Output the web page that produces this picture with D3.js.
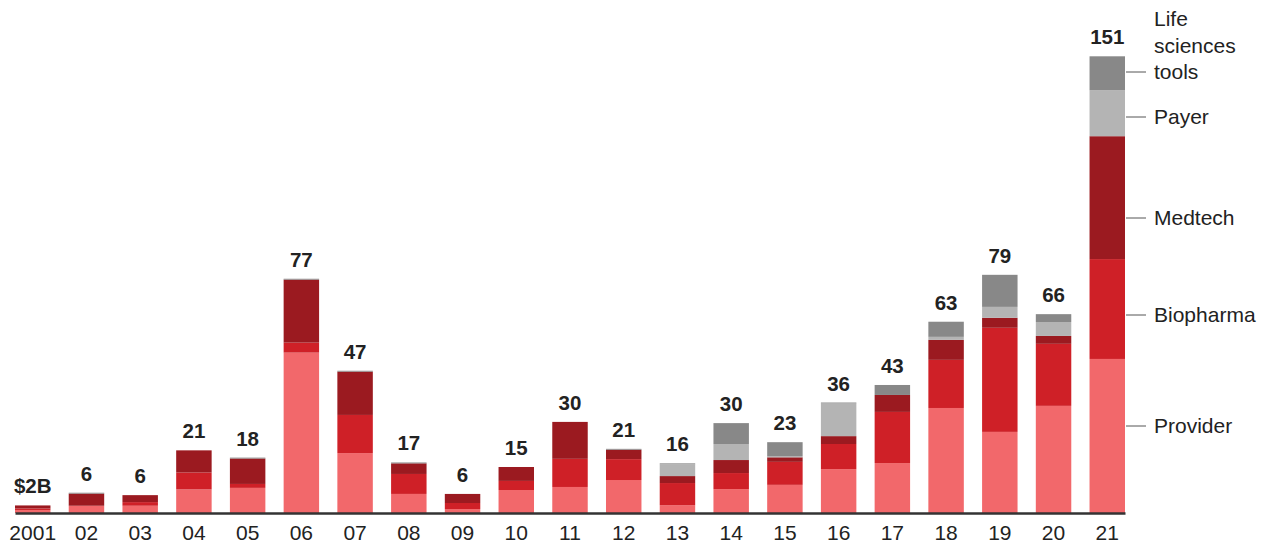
<!DOCTYPE html>
<html>
<head>
<meta charset="utf-8">
<script src="https://cdn.jsdelivr.net/npm/d3@7"></script>
<style>
  html, body { margin: 0; padding: 0; background: #fff; }
  svg { display: block; font-family: "Liberation Sans", Arial, Helvetica, sans-serif; }
</style>
</head>
<body>
<svg id="chart" width="1265" height="545"></svg>
<script>
// ---- Data ----
const years = ["2001","02","03","04","05","06","07","08","09","10","11","12","13","14","15","16","17","18","19","20","21"];
const totalLabels = ["$2B","6","6","21","18","77","47","17","6","15","30","21","16","30","23","36","43","63","79","66","151"];
const provider  = [1.0, 2.4, 2.4, 7.8, 8.3, 53.0, 19.8, 6.3, 1.3, 7.6, 8.6, 10.9, 2.6, 7.9, 9.3, 14.5, 16.5, 34.7, 26.8, 35.4, 50.9];
const biopharma = [0.5, 0.0, 1.2, 5.6, 1.3, 3.3, 12.6, 6.6, 2.0, 3.0, 9.3, 6.9, 7.3, 5.3, 7.6, 8.3, 16.9, 15.9, 34.4, 20.5, 33.0];
const medtech   = [1.0, 4.0, 2.3, 7.3, 8.4, 20.8, 14.3, 3.5, 3.0, 4.6, 12.2, 3.1, 2.3, 4.3, 1.5, 2.6, 5.6, 6.6, 3.3, 2.6, 40.6];
const payer     = [0, 0, 0, 0, 0, 0, 0, 0, 0, 0, 0, 0, 3.9, 5.3, 0.3, 10.8, 0, 1.0, 3.6, 4.6, 15.2];
const lifeSci   = [0, 0.3, 0, 0, 0.3, 0.3, 0.3, 0.3, 0, 0, 0, 0.3, 0.3, 6.9, 4.7, 0.3, 3.3, 5.0, 10.6, 2.6, 11.2];
const seriesNames = ["Provider", "Biopharma", "Medtech", "Payer", "Life sciences tools"];
const seriesKeys  = ["provider", "biopharma", "medtech", "payer", "lifeSci"];

// ---- Layout / style ----
const colors = { provider: "#f2686b", biopharma: "#cf2027", medtech: "#9b1a20", payer: "#b4b4b4", lifeSci: "#888888" };
const legendLineY = { provider: 426, biopharma: 315, medtech: 218, payer: 117, lifeSci: 72 };

const rows = years.map((y, i) => ({
  year: y, label: totalLabels[i],
  provider: provider[i], biopharma: biopharma[i], medtech: medtech[i], payer: payer[i], lifeSci: lifeSci[i]
}));

const svg = d3.select("#chart");
const x = d3.scaleBand().domain(years).range([15, 1125]).paddingInner(0.34).paddingOuter(0);
const y = d3.scaleLinear().domain([0, 151]).range([513, 56]);

const stack = d3.stack().keys(seriesKeys);
const stacked = stack(rows);

svg.append("g").selectAll("g")
  .data(stacked).join("g")
  .attr("fill", d => colors[d.key])
  .selectAll("rect")
  .data(d => d).join("rect")
  .attr("x", d => x(d.data.year))
  .attr("width", x.bandwidth())
  .attr("y", d => y(d[1]))
  .attr("height", d => Math.max(0, y(d[0]) - y(d[1])));

// totals
svg.append("g").selectAll("text")
  .data(rows).join("text")
  .attr("x", d => x(d.year) + x.bandwidth() / 2)
  .attr("y", d => y(seriesKeys.reduce((s, k) => s + d[k], 0)) - 12)
  .attr("text-anchor", "middle")
  .attr("font-size", 20.5)
  .attr("font-weight", "bold")
  .attr("fill", "#222")
  .text(d => d.label);

// x axis
const xAxis = d3.axisBottom(x).tickSize(0).tickPadding(0);
const gx = svg.append("g").attr("transform", "translate(0,513)").call(xAxis);
gx.select(".domain").attr("stroke", "#333").attr("stroke-width", 2.5);
gx.selectAll(".tick text")
  .attr("font-size", 21)
  .attr("fill", "#222")
  .attr("font-family", "\"Liberation Sans\", Arial, Helvetica, sans-serif")
  .attr("dy", null)
  .attr("y", 27);

// legend
const lastX = x(years[years.length - 1]) + x.bandwidth();
const lg = svg.append("g");
seriesKeys.forEach((k, i) => {
  const ly = legendLineY[k];
  lg.append("line")
    .attr("x1", lastX + 1).attr("x2", lastX + 21)
    .attr("y1", ly).attr("y2", ly)
    .attr("stroke", "#555").attr("stroke-width", 1);
  const words = k === "lifeSci" ? ["Life", "sciences", "tools"] : [seriesNames[i]];
  words.forEach((w, j) => {
    lg.append("text")
      .attr("x", lastX + 29)
      .attr("y", ly + 7 - (words.length - 1 - j) * 26.5)
      .attr("font-size", 21)
      .attr("fill", "#222")
      .text(w);
  });
});
</script>
</body>
</html>
